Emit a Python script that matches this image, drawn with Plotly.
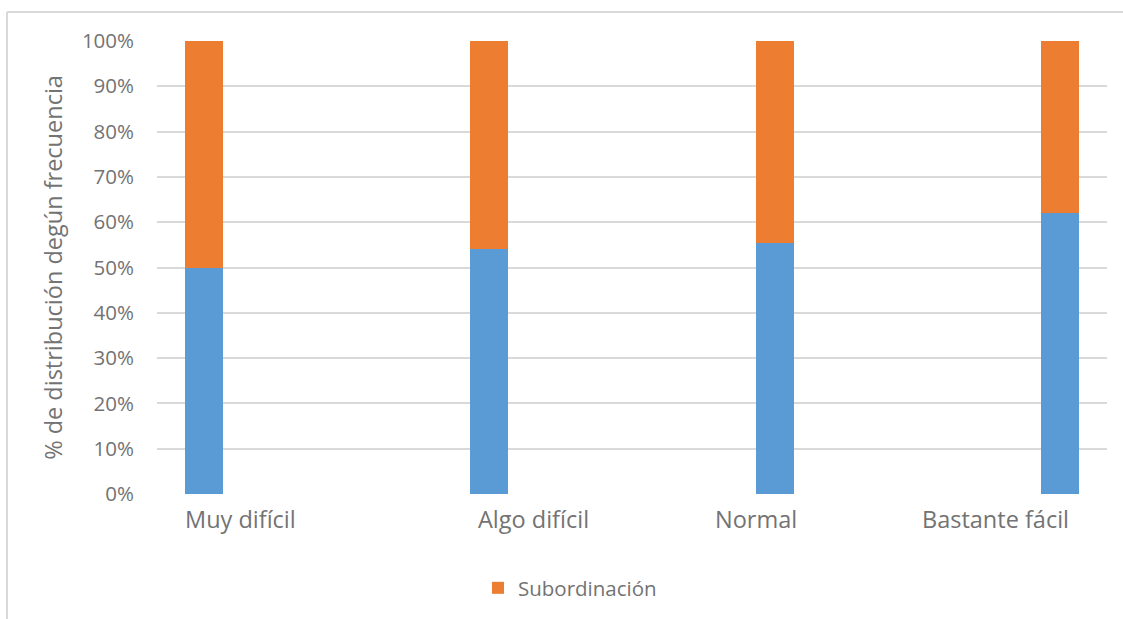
import plotly.graph_objects as go

categories = ["Muy difícil", "Algo difícil", "Normal", "Bastante fácil"]
blue_values = [50.0, 54.0, 55.3, 62.1]
orange_values = [100 - v for v in blue_values]
legend_name = "Subordinación"
y_title = "% de distribución degún frecuencia"
y_ticks = [0, 10, 20, 30, 40, 50, 60, 70, 80, 90, 100]

BLUE = "#5B9BD5"
ORANGE = "#ED7D31"
GRID = "#D9D9D9"
TEXT = "#737373"
FONT = "Open Sans"

n = len(categories)
step = 0.2021
bw = 0.16
offsets = [(i - (n - 1) / 2) * step - bw / 2 for i in range(n)]

fig = go.Figure()
fig.add_trace(go.Bar(x=categories, y=blue_values, marker=dict(color=BLUE, line=dict(width=0)),
                     width=[bw] * n, offset=offsets, showlegend=False, name="Serie"))
fig.add_trace(go.Bar(x=categories, y=orange_values, marker=dict(color=ORANGE, line=dict(width=0)),
                     width=[bw] * n, offset=offsets, name=legend_name))

label_shift = [-35, 20, 5, 7]
annotations = []
for c, s in zip(categories, label_shift):
    annotations.append(dict(x=c, y=0, xref="x", yref="paper", text=c, showarrow=False,
                            xshift=s, yshift=-7, yanchor="top", xanchor="center",
                            font=dict(family=FONT, size=23.5, color=TEXT)))

W, H = 1123, 619
l, r, t, b = 157, 16, 41, 124
pw = W - l - r
ph = H - t - b
def px(xp):
    return (xp - l) / pw
def py(yp):
    return (H - b - yp) / ph

shapes = [
    dict(type="line", xref="paper", yref="paper", x0=px(7), x1=px(7), y0=py(12), y1=py(640),
         line=dict(color=GRID, width=2)),
    dict(type="line", xref="paper", yref="paper", x0=px(7), x1=px(1140), y0=py(12), y1=py(12),
         line=dict(color=GRID, width=2)),
]

fig.update_layout(
    barmode="stack",
    width=W, height=H,
    margin=dict(l=l, r=r, t=t, b=b, pad=0),
    paper_bgcolor="white", plot_bgcolor="white",
    font=dict(family=FONT, color=TEXT),
    showlegend=True,
    legend=dict(orientation="h", x=px(570), xanchor="center", y=py(588), yanchor="middle",
                font=dict(family=FONT, size=20.5, color=TEXT), bgcolor="rgba(0,0,0,0)"),
    annotations=annotations,
    shapes=shapes,
)
fig.update_xaxes(showticklabels=False, showgrid=False, zeroline=False, showline=False,
                 range=[-0.5, n - 0.5])
fig.update_yaxes(range=[0, 100], tickvals=y_ticks, ticktext=[f"{v}%" for v in y_ticks],
                 showgrid=True, gridcolor=GRID, gridwidth=2, zeroline=False, showline=False,
                 ticks="", ticklabelstandoff=22,
                 tickfont=dict(family=FONT, size=20.5, color=TEXT),
                 title=dict(text=y_title, font=dict(family=FONT, size=23.5, color=TEXT), standoff=12))

fig.write_html("out.html")
